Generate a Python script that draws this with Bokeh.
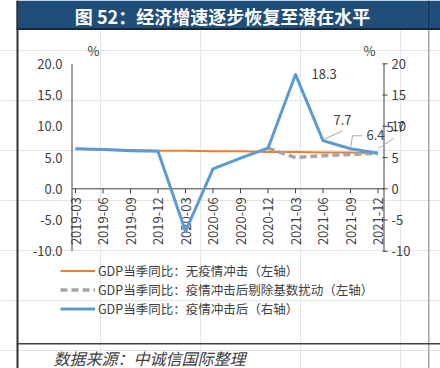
import math
from bokeh.plotting import figure
from bokeh.models import Range1d, Legend, LegendItem
from bokeh.core.properties import value
from bokeh.embed import file_html
from bokeh.resources import INLINE

nan = float("nan")

# ---------------- data ----------------
quarters = ["2019-03", "2019-06", "2019-09", "2019-12",
            "2020-03", "2020-06", "2020-09", "2020-12",
            "2021-03", "2021-06", "2021-09", "2021-12"]
no_shock = [6.4, 6.3, 6.2, 6.1, 6.1, 6.0, 6.0, 5.9, 5.9, 5.8, 5.8, 5.7]          # left axis
ex_base = [nan, nan, nan, nan, nan, nan, nan, 6.5, 5.0, 5.3, 5.5, 5.7]           # left axis
after_shock = [6.4, 6.3, 6.1, 6.0, -6.8, 3.2, 4.9, 6.5, 18.3, 7.7, 6.4, 5.7]    # right axis
series_names = ["GDP当季同比：无疫情冲击（左轴）",
                "GDP当季同比：疫情冲击后剔除基数扰动（左轴）",
                "GDP当季同比：疫情冲击后（右轴）"]
axis_ticks = [-10, -5, 0, 5, 10, 15, 20]
left_tick_labels = ["-10.0", "-5.0", "0.0", "5.0", "10.0", "15.0", "20.0"]
right_tick_labels = ["-10", "-5", "0", "5", "10", "15", "20"]
labelled = [8, 9, 10, 11]
title_text = "图 52：经济增速逐步恢复至潜在水平"
source_text = "数据来源：中诚信国际整理"
unit_text = "%"

# ---------------- geometry / style ----------------
FONT = "Noto Sans CJK SC"
TXT = "#404040"
W, H = 440, 368
CAT_PX0, CAT_STEP = 75.0, 27.5      # pixel of first category, pixels per category
VAL_PX_TOP, PPY = 63.3, 6.25        # pixel of value 20, pixels per unit
Y0, Y1 = -10, 20
AX_L, AX_R = 71.5, 383.5            # axis line pixels

cat_start = -CAT_PX0 / CAT_STEP
cat_end = (W - CAT_PX0) / CAT_STEP
val_end = Y1 + VAL_PX_TOP / PPY
val_start = Y1 - (H - VAL_PX_TOP) / PPY

idx = list(range(len(quarters)))

p = figure(width=W, height=H, output_backend="svg", toolbar_location=None,
           x_range=Range1d(0, W), y_range=Range1d(H, 0),
           min_border=0, x_axis_location=None, y_axis_location=None)
p.outline_line_color = None
p.background_fill_color = "white"
p.border_fill_color = "white"
p.extra_x_ranges = {"cat": Range1d(cat_start, cat_end)}
p.extra_y_ranges = {"val": Range1d(val_start, val_end)}

def txt(x, y, text, size="13px", align="left", base="middle", color=TXT, style="normal",
        angle=0, xr="default", yr="default"):
    p.text(x=x, y=y, text=text, text_font=value(FONT), text_font_size=value(size),
           text_align=align, text_baseline=base, text_color=color, text_font_style=style,
           angle=angle, x_range_name=xr, y_range_name=yr)

# ---------------- frame decorations (pixel space) ----------------
p.quad(left=[427.5], right=[429], top=[0], bottom=[H], fill_color="#A6A6A6", line_color=None)
p.quad(left=[16], right=[W], top=[0], bottom=[29], fill_color="#1F4E79", line_color=None)
p.quad(left=[16], right=[W], top=[27.5], bottom=[29.5], fill_color="#1B2633", line_color=None)
p.quad(left=[427.5], right=[429], top=[0], bottom=[27.5], fill_color="#17375E", line_color=None)
p.quad(left=[16], right=[18], top=[0], bottom=[H], fill_color="#333333", line_color=None)
p.quad(left=[16], right=[W], top=[342.5], bottom=[344], fill_color="#404040", line_color=None)

txt([222], [15.5], [title_text], size="18px", align="center", color="white", style="bold")
txt([53], [357], [source_text], size="16px", align="left", style="italic")

# ---------------- axes ----------------
# left / right axis lines
p.segment(x0=[AX_L, AX_R], y0=[Y0, Y0], x1=[AX_L, AX_R], y1=[Y1, Y1],
          line_color=TXT, line_width=1, y_range_name="val")
# right axis ticks
p.segment(x0=[AX_R - 1.5] * len(axis_ticks), y0=axis_ticks, x1=[AX_R + 3.5] * len(axis_ticks),
          y1=axis_ticks, line_color=TXT, line_width=1, y_range_name="val")
txt([AX_L - 9.5] * len(axis_ticks), axis_ticks, left_tick_labels, align="right", yr="val")
txt([AX_R + 7.5] * len(axis_ticks), axis_ticks, right_tick_labels, align="left", yr="val")
txt([93, 369], [50, 50], [unit_text, unit_text], align="center")

# x axis at zero
p.segment(x0=[AX_L], y0=[0], x1=[AX_R], y1=[0], line_color=TXT, line_width=1, y_range_name="val")
p.segment(x0=idx, y0=[0] * len(idx), x1=idx, y1=[-4.5 / PPY] * len(idx),
          line_color=TXT, line_width=1, x_range_name="cat", y_range_name="val")
txt(idx, [-8.5 / PPY] * len(idx), quarters, align="right", angle=math.pi / 2,
    xr="cat", yr="val")

# ---------------- series ----------------
r1 = p.line(idx, no_shock, line_color="#ED7D31", line_width=2,
            x_range_name="cat", y_range_name="val")
r2 = p.line(idx, ex_base, line_color="#A5A5A5", line_width=3.5, line_dash="7 4",
            x_range_name="cat", y_range_name="val")
r3 = p.line(idx, after_shock, line_color="#5B9BD5", line_width=3, line_join="round",
            x_range_name="cat", y_range_name="val")

# data labels and leader lines (pixel offsets from the point: dx right, dy down)
lab_off = {8: (16, 0), 9: (10.5, -21), 10: (16, -14), 11: (8.5, -26)}
leaders = {9: [(0.5, -1), (19.5, -10)],
           10: [(0, -1), (2, -13), (12, -13)],
           11: [(0.5, -4.7), (15.5, -14.7)]}
lx, ly = [], []
for i in leaders:
    lx.append([i + dx / CAT_STEP for dx, dy in leaders[i]])
    ly.append([after_shock[i] - dy / PPY for dx, dy in leaders[i]])
p.multi_line(xs=lx, ys=ly, line_color="#A6A6A6", line_width=1,
             x_range_name="cat", y_range_name="val")
txt([i + lab_off[i][0] / CAT_STEP for i in labelled],
    [after_shock[i] - lab_off[i][1] / PPY for i in labelled],
    [f"{after_shock[i]:.1f}" for i in labelled], align="left", xr="cat", yr="val")

# ---------------- legend ----------------
legend = Legend(items=[LegendItem(label=series_names[0], renderers=[r1]),
                       LegendItem(label=series_names[1], renderers=[r2]),
                       LegendItem(label=series_names[2], renderers=[r3])],
                location=(60, 50), orientation="vertical", glyph_width=35, glyph_height=17,
                label_height=17, label_width=10, spacing=0, padding=0, margin=0, label_standoff=3,
                border_line_color=None, background_fill_alpha=0,
                label_text_font=FONT, label_text_font_size="12.5px", label_text_color=TXT)
p.add_layout(legend)

open("out.html", "w").write(file_html(p, INLINE))
